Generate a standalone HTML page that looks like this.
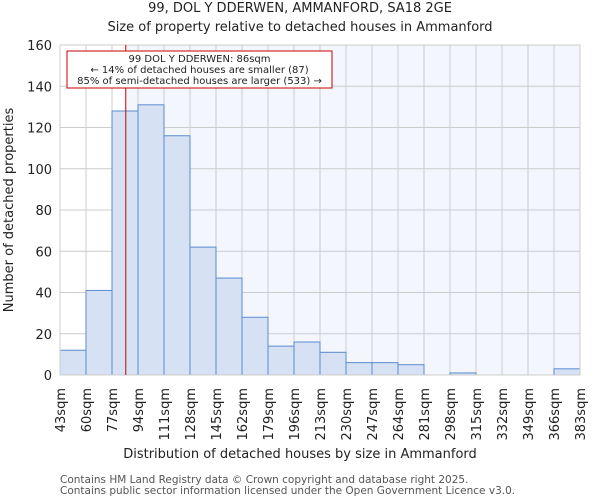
<!DOCTYPE html>
<html><head><meta charset="utf-8"><style>body{margin:0;background:#fff}svg{display:block;font-family:"DejaVu Sans","Liberation Sans",sans-serif}</style></head>
<body>
<svg id="c" width="600" height="500"></svg>
<script>
const categories=["43sqm","60sqm","77sqm","94sqm","111sqm","128sqm","145sqm","162sqm","179sqm","196sqm","213sqm","230sqm","247sqm","264sqm","281sqm","298sqm","315sqm","332sqm","349sqm","366sqm","383sqm"];
const counts=[12,41,128,131,116,62,47,28,14,16,11,6,6,5,0,1,0,0,0,3];
const yTicks=[0,20,40,60,80,100,120,140,160];
const markerValue=86;
const L=60,R=580,T=45,B=375,NS="http://www.w3.org/2000/svg";
const svg=document.getElementById('c');
const n=counts.length,bw=(R-L)/n;
const x=i=>L+i*bw;
const xv=v=>L+(v-43)/17*bw;
const y=v=>B-(v/160)*(B-T);
function mk(t,a,p){const e=document.createElementNS(NS,t);for(const k in a)e.setAttribute(k,a[k]);(p||svg).appendChild(e);return e;}
let e;
const mx=xv(markerValue);
e=mk('rect',{x:mx,y:T,width:R-mx,height:B-T,fill:'#f3f6fd'});


yTicks.forEach(v=>{e=mk('line',{x1:L,x2:R,y1:y(v),y2:y(v),stroke:'#ccc'});


e=mk('text',{x:L-8,y:y(v)+5,'text-anchor':'end','font-size':13,fill:'#222'});e.textContent=v;

});
categories.forEach((c,i)=>{e=mk('line',{x1:x(i),x2:x(i),y1:T,y2:B,stroke:'#ccc'});


e=mk('text',{transform:`translate(${x(i)+5},388) rotate(-90)`,'text-anchor':'end','font-size':13,fill:'#222'});e.textContent=c;

});
counts.forEach((v,i)=>{if(v<=0)return;e=mk('rect',{x:x(i),y:y(v),width:bw,height:B-y(v),fill:'#d6e2f4',stroke:'#5b8bd0','stroke-width':1});

});
e=mk('rect',{x:L,y:T,width:R-L,height:B-T,fill:'none',stroke:'#ccc'});


e=mk('line',{x1:mx,x2:mx,y1:T,y2:B,stroke:'#cc0000','stroke-width':1});


e=mk('rect',{x:67,y:51,width:265,height:37,fill:'#fff',stroke:'#cc0000'});


["99 DOL Y DDERWEN: 86sqm","← 14% of detached houses are smaller (87)","85% of semi-detached houses are larger (533) →"].forEach((t,i)=>{e=mk('text',{x:199.5,y:62+i*11,'text-anchor':'middle','font-size':10,fill:'#222'});e.textContent=t;

});
[[300,12,13,'chart-title',"99, DOL Y DDERWEN, AMMANFORD, SA18 2GE"],[300,31,13,'chart-subtitle',"Size of property relative to detached houses in Ammanford"],[300,458,13,'x-axis-title',"Distribution of detached houses by size in Ammanford"],[60,483,10.5,'footer-1',"Contains HM Land Registry data © Crown copyright and database right 2025."],[60,494,10.5,'footer-2',"Contains public sector information licensed under the Open Government Licence v3.0."]].forEach(([a,b,s,nm,t])=>{e=mk('text',{x:a,y:b,'text-anchor':a==60?'start':'middle','font-size':s,fill:a==60?'#555':'#222'});e.textContent=t;

});
e=mk('text',{transform:'translate(13,210) rotate(-90)','text-anchor':'middle','font-size':13,fill:'#222'});e.textContent="Number of detached properties";


</script>
</body></html>
